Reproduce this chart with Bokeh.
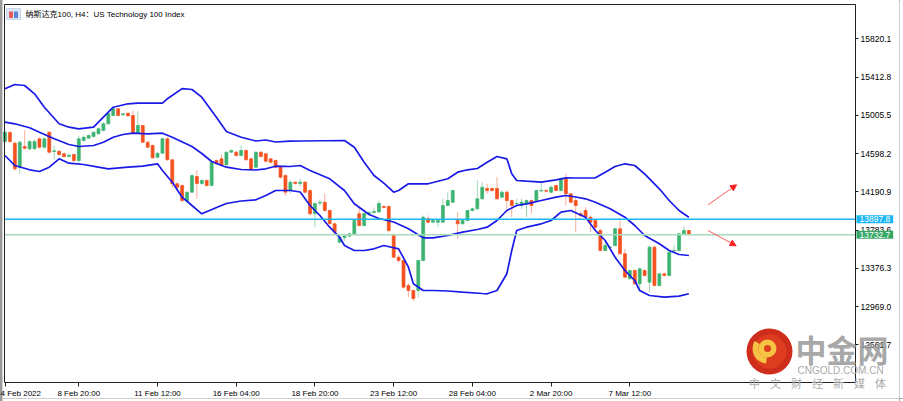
from bokeh.plotting import figure
from bokeh.models import (Range1d, FixedTicker, PrintfTickFormatter, Label, LinearAxis,
                          Arrow, NormalHead, ColumnDataSource, BoxAnnotation)
from bokeh.embed import file_html
from bokeh.resources import INLINE

# ---------------- data ----------------
title_text = "纳斯达克100, H4：US Technology 100 Index"

open_ = [14726.4, 14822.2, 14708.2, 14452.6, 14673.1, 14648.6, 14648.6, 14755.1, 14665.6, 14825.4,
         14619.9, 14623.0, 14595.4, 14566.6, 14587.9, 14524.0, 14737.0, 14761.5, 14779.6, 14808.4,
         14843.5, 14914.9, 15003.2, 15074.6, 15010.7, 15027.7, 15003.2, 14814.7, 14896.8, 14718.9,
         14683.8, 14559.1, 14601.7, 14755.1, 14531.5, 14275.9, 14257.8, 14090.5, 14186.4, 14353.6,
         14279.1, 14311.0, 14257.8, 14524.0, 14542.1, 14478.2, 14612.4, 14612.4, 14577.3, 14630.5,
         14542.1, 14452.6, 14612.4, 14595.4, 14542.1, 14524.0, 14452.6, 14364.3, 14204.5, 14292.9,
         14279.1, 14292.9, 14204.5, 13959.6, 14071.4, 14079.9, 13991.5, 13849.9, 13653.9, 13704.0,
         13719.9, 13743.4, 13956.4, 13831.8, 13956.4, 13970.2, 13975.5, 14034.1, 14034.1, 13725.3,
         13494.1, 13459.0, 13192.8, 13139.5, 13139.5, 13459.0, 13903.1, 13866.9, 13866.9, 13866.9,
         14044.8, 14079.9, 13885.0, 13849.9, 13885.0, 13991.5, 14009.6, 14116.1, 14225.8, 14225.8,
         14225.8, 14133.1, 14186.4, 14098.0, 14062.9, 14044.8, 14062.9, 14098.0, 14098.0, 14199.2,
         14204.5, 14186.4, 14257.8, 14204.5, 14332.3, 14169.4, 14098.0, 13956.4, 13991.5, 13920.1,
         13885.0, 13778.5, 13565.5, 13597.5, 13618.8, 13796.6, 13530.4, 13264.1, 13352.5, 13210.9,
         13352.5, 13227.9, 13600.6, 13192.8, 13317.4, 13299.3, 13560.2, 13565.5, 13743.4, 13778.5]

high = [14843.5, 14843.5, 14726.4, 14737.0, 14843.5, 14737.0, 14747.7, 14769.0, 14772.1, 14832.8,
        14683.8, 14630.5, 14609.2, 14598.6, 14598.6, 14790.3, 14790.3, 14800.9, 14832.8, 14875.4,
        14928.7, 15035.2, 15091.6, 15083.1, 15024.5, 15035.2, 15056.5, 15049.1, 14902.1, 14726.4,
        14694.4, 14609.2, 14769.0, 14772.1, 14537.8, 14289.7, 14268.4, 14193.9, 14374.9, 14417.5,
        14332.3, 14321.7, 14524.0, 14534.7, 14587.9, 14619.9, 14641.2, 14625.2, 14683.8, 14641.2,
        14550.6, 14619.9, 14619.9, 14601.7, 14548.5, 14534.7, 14460.1, 14374.9, 14311.0, 14300.4,
        14332.3, 14300.4, 14215.2, 14076.7, 14108.7, 14172.6, 14002.2, 13863.7, 13725.3, 13735.9,
        13757.2, 13895.7, 14026.6, 13970.2, 13980.9, 14023.5, 14098.0, 14044.8, 14044.8, 13746.6,
        13512.3, 13469.7, 13214.1, 13150.2, 13469.7, 13938.3, 13938.3, 13895.7, 13895.7, 14116.1,
        14186.4, 14215.2, 13973.4, 13895.7, 14002.2, 14023.5, 14311.0, 14292.9, 14275.9, 14236.5,
        14346.1, 14204.5, 14204.5, 14108.7, 14119.3, 14116.1, 14108.7, 14108.7, 14215.2, 14292.9,
        14215.2, 14257.8, 14268.4, 14343.0, 14382.4, 14172.6, 14133.1, 13980.9, 14026.6, 13938.3,
        13895.7, 13799.8, 13672.0, 13618.8, 13810.5, 13885.0, 13583.6, 13363.2, 13363.2, 13384.5,
        13363.2, 13618.8, 13618.8, 13331.2, 13331.2, 13554.9, 13618.8, 13757.2, 13821.1, 13783.8]

low = [14715.7, 14705.1, 14417.5, 14382.4, 14641.2, 14630.5, 14641.2, 14651.8, 14651.8, 14598.6,
       14534.7, 14577.3, 14556.0, 14556.0, 14505.9, 14495.2, 14726.4, 14753.0, 14769.0, 14800.9,
       14832.8, 14907.4, 14992.6, 14992.6, 15003.2, 14992.6, 14806.2, 14808.4, 14712.5, 14657.1,
       14545.3, 14545.3, 14595.4, 14524.0, 14236.5, 14204.5, 14076.7, 14082.0, 14183.2, 14119.3,
       14268.4, 14247.1, 14247.1, 14481.4, 14460.1, 14470.8, 14603.9, 14566.6, 14566.6, 14524.0,
       14417.5, 14444.1, 14556.0, 14502.7, 14492.1, 14438.8, 14332.3, 14151.3, 14172.6, 14268.4,
       14247.1, 14172.6, 13938.3, 13813.6, 14044.8, 13980.9, 13842.4, 13735.9, 13640.1, 13672.0,
       13704.0, 13735.9, 13821.1, 13821.1, 13938.3, 13959.6, 13970.2, 14012.8, 13757.2, 13480.3,
       13437.7, 13160.8, 13068.1, 13027.7, 13068.1, 13448.4, 13853.1, 13863.7, 13813.6, 13858.4,
       14034.1, 14071.4, 13690.1, 13842.4, 13874.4, 13980.9, 14002.2, 14108.7, 14169.4, 14193.9,
       14108.7, 14124.6, 14009.6, 13920.1, 14034.1, 14009.6, 13920.1, 13956.4, 14087.4, 14188.5,
       14183.2, 14177.9, 14193.9, 14193.9, 14044.8, 14066.1, 13760.4, 13906.3, 13906.3, 13760.4,
       13799.8, 13554.9, 13554.9, 13586.8, 13608.1, 13522.9, 13272.6, 13256.7, 13203.4, 13139.5,
       13288.6, 13121.4, 13182.1, 13182.1, 13288.6, 13288.6, 13547.4, 13554.9, 13735.9, 13725.3]

close = [14825.4, 14726.4, 14435.6, 14718.9, 14655.0, 14726.4, 14726.4, 14665.6, 14755.1, 14612.4,
         14627.3, 14587.9, 14566.6, 14580.4, 14524.0, 14755.1, 14772.1, 14790.3, 14825.4, 14861.6,
         14914.9, 15021.4, 15074.6, 15003.2, 15021.4, 15000.1, 14814.7, 14896.8, 14718.9, 14665.6,
         14552.8, 14601.7, 14755.1, 14531.5, 14275.9, 14239.6, 14098.0, 14186.4, 14364.3, 14279.1,
         14311.0, 14257.8, 14505.9, 14488.9, 14470.8, 14612.4, 14630.5, 14577.3, 14630.5, 14531.5,
         14425.0, 14612.4, 14566.6, 14516.5, 14505.9, 14452.6, 14346.1, 14186.4, 14292.9, 14279.1,
         14292.9, 14186.4, 13956.4, 14066.1, 14079.9, 13991.5, 13853.1, 13760.4, 13707.1, 13719.9,
         13743.4, 13885.0, 13831.8, 13959.6, 13970.2, 13980.9, 14066.1, 14023.5, 13778.5, 13494.1,
         13459.0, 13174.6, 13139.5, 13054.3, 13459.0, 13920.1, 13866.9, 13885.0, 13885.0, 14044.8,
         14098.0, 14204.5, 13849.9, 13885.0, 13991.5, 14009.6, 14116.1, 14239.6, 14204.5, 14204.5,
         14116.1, 14186.4, 14098.0, 14044.8, 14066.1, 14079.9, 14098.0, 14044.8, 14204.5, 14204.5,
         14197.0, 14239.6, 14204.5, 14329.1, 14169.4, 14079.9, 14044.8, 13938.3, 13920.1, 13866.9,
         13813.6, 13565.5, 13618.8, 13600.6, 13796.6, 13530.4, 13281.1, 13352.5, 13210.9, 13370.6,
         13299.3, 13600.6, 13192.8, 13317.4, 13299.3, 13547.4, 13565.5, 13743.4, 13778.5, 13732.7]

# Bollinger bands (bar index, price)
upper_bar = [0, 2, 4, 6, 8, 11, 13, 15, 18, 20, 22, 25, 27, 32, 33, 36, 38, 40, 43, 45,
             48, 50, 51, 53, 55, 58, 60, 69, 71, 73, 75, 77, 79, 80, 82, 86, 90, 92, 94, 96,
             98, 100, 102, 103, 104, 106, 109, 112, 114, 116, 120, 122, 124, 126, 128, 130, 133, 135, 137, 139]
upper = [15287.6, 15333.4, 15322.8, 15234.4, 15091.6, 14914.9, 14878.6, 14861.6, 14878.6, 14985.1,
         15091.6, 15127.9, 15134.3, 15134.3, 15181.1, 15290.0, 15280.0, 15198.1, 14981.9, 14832.9,
         14772.1, 14744.5, 14731.7, 14742.3, 14721.0, 14729.5, 14731.7, 14737.0, 14665.6, 14505.9,
         14364.3, 14282.3, 14186.4, 14204.5, 14275.9, 14275.9, 14329.1, 14399.4, 14425.0, 14438.8,
         14505.9, 14566.6, 14542.1, 14382.4, 14311.0, 14303.5, 14292.8, 14318.4, 14339.7, 14337.6,
         14339.7, 14399.4, 14460.1, 14488.8, 14470.8, 14382.4, 14222.6, 14098.0, 13991.5, 13920.1]

middle_bar = [0, 2, 5, 7, 10, 13, 15, 18, 20, 22, 24, 26, 29, 32, 34, 38, 40, 42, 45, 48,
              51, 53, 55, 58, 60, 62, 66, 69, 71, 74, 76, 79, 82, 85, 87, 90, 93, 96, 98, 100,
              102, 104, 106, 109, 112, 114, 116, 118, 120, 123, 126, 128, 130, 133, 135, 137, 139]
middle = [14931.9, 14914.9, 14872.3, 14825.4, 14755.2, 14694.4, 14673.1, 14683.8, 14718.9, 14772.1,
          14800.9, 14814.7, 14808.4, 14814.7, 14772.1, 14673.1, 14598.6, 14513.4, 14452.6, 14428.2,
          14422.8, 14435.6, 14463.3, 14460.1, 14470.8, 14417.5, 14329.1, 14204.5, 14062.8, 13948.9,
          13906.3, 13869.0, 13796.6, 13700.8, 13700.8, 13725.3, 13760.4, 13789.2, 13813.7, 13885.0,
          13991.5, 14044.8, 14062.8, 14098.0, 14133.1, 14151.3, 14135.3, 14116.1, 14079.9, 14009.6,
          13920.1, 13831.8, 13725.3, 13636.9, 13565.5, 13522.9, 13512.3]

lower_bar = [0, 2, 5, 7, 9, 11, 13, 16, 19, 21, 25, 28, 31, 32, 34, 36, 38, 40, 43, 45,
             48, 51, 53, 55, 58, 60, 62, 64, 66, 68, 69, 71, 73, 75, 77, 80, 82, 83, 85, 87,
             90, 93, 97, 98, 100, 102, 103, 104, 106, 109, 111, 113, 115, 118, 120, 122, 124, 126, 128, 129,
             131, 134, 137, 139]
lower = [14577.3, 14470.8, 14425.0, 14406.9, 14452.6, 14542.1, 14495.2, 14481.4, 14452.6, 14435.6,
         14452.6, 14463.3, 14488.8, 14417.5, 14292.8, 14133.1, 14044.8, 13956.4, 14023.5, 14066.1,
         14092.7, 14105.5, 14151.3, 14204.5, 14204.5, 14188.5, 14044.8, 13938.3, 13813.7, 13707.2,
         13618.8, 13565.5, 13565.5, 13583.6, 13618.8, 13583.6, 13387.7, 13210.9, 13139.5, 13139.5,
         13134.2, 13121.4, 13107.6, 13104.4, 13139.5, 13317.4, 13565.5, 13778.5, 13813.7, 13849.7,
         13885.0, 13973.4, 13991.5, 13920.1, 13778.5, 13672.0, 13494.2, 13352.5, 13246.0, 13139.5,
         13086.3, 13068.2, 13078.8, 13104.4]

price_ticks = [12561.7, 12969.0, 13376.3, 13783.6, 14190.9, 14598.2, 15005.5, 15412.8, 15820.1]
time_tick_bars = [0, 15, 31, 47, 63, 79, 95, 111, 127]
time_tick_labels = ["4 Feb 2022", "8 Feb 20:00", "11 Feb 12:00", "16 Feb 04:00", "18 Feb 20:00",
                    "23 Feb 12:00", "28 Feb 04:00", "2 Mar 20:00", "7 Mar 12:00"]

hline_price = 13897.8
bid_price = 13732.7

# red hand-drawn arrows (bar, price)
arrow_x0 = [142.9, 142.9]
arrow_y0 = [14052.2, 13778.5]
arrow_x1 = [148.7, 148.6]
arrow_y1 = [14265.2, 13615.6]

# ---------------- geometry ----------------
W, H = 903, 401
BAR_PX, BAR0_PX = 4.92, 4.5          # px per bar, px of bar 0
PT_PX, TOP_PRICE = 10.65, 16228.0    # price per px, price at canvas top
X0 = -BAR0_PX / BAR_PX
X1 = X0 + W / BAR_PX
Y1 = TOP_PRICE
Y0 = TOP_PRICE - H * PT_PX


def dx(px):
    return X0 + px / BAR_PX


def dy(py):
    return Y1 - py * PT_PX


AX_R, AX_B, AX_L, AX_T = dx(855), dy(382), dx(3.5), dy(4)

UP, DOWN = "#3cb371", "#f4511e"
UP_W, DOWN_W = "#9fd8b3", "#f7ad95"
FRAME = "#202020"

p = figure(width=W, height=H, output_backend="svg", toolbar_location=None,
           x_range=Range1d(X0, X1), y_range=Range1d(Y0, Y1),
           x_axis_location="below", y_axis_location="right",
           min_border=0, min_border_left=0, min_border_right=0, min_border_top=0, min_border_bottom=0,
           background_fill_alpha=0, border_fill_alpha=0)
p.grid.visible = False
p.outline_line_color = None

ya = p.yaxis[0]
ya.fixed_location = AX_R
ya.bounds = (AX_B, AX_T)
ya.ticker = FixedTicker(ticks=price_ticks)
ya.formatter = PrintfTickFormatter(format="%.1f")
ya.major_tick_out = 3
ya.major_tick_in = 0
ya.minor_tick_line_color = None
ya.axis_line_color = FRAME
ya.major_tick_line_color = FRAME
ya.major_label_standoff = 2
ya.major_label_text_font = "Liberation Sans"
ya.major_label_text_font_size = "8.5px"
ya.major_label_text_color = "#000000"

xa = p.xaxis[0]
xa.fixed_location = AX_B
xa.bounds = (AX_L, AX_R)
xa.ticker = FixedTicker(ticks=time_tick_bars)
xa.major_label_overrides = {b: t for b, t in zip(time_tick_bars, time_tick_labels)}
xa.major_tick_out = 4
xa.major_tick_in = 0
xa.minor_tick_line_color = None
xa.axis_line_color = FRAME
xa.major_tick_line_color = FRAME
xa.major_label_standoff = 2
xa.major_label_text_align = "left"
xa.major_label_text_font = "Liberation Sans"
xa.major_label_text_font_size = "8px"
xa.major_label_text_color = "#000000"

# top and left frame edges (tick-less axes)
top_ax = LinearAxis(fixed_location=AX_T, bounds=(AX_L, AX_R), ticker=FixedTicker(ticks=[]),
                    axis_line_color=FRAME, major_label_text_font_size="0px")
left_ax = LinearAxis(fixed_location=AX_L, bounds=(AX_B, AX_T), ticker=FixedTicker(ticks=[]),
                     axis_line_color=FRAME, major_label_text_font_size="0px")
p.add_layout(top_ax, "above")
p.add_layout(left_ax, "left")

# white chart area
p.add_layout(BoxAnnotation(left=AX_L, right=AX_R, top=AX_T, bottom=AX_B,
                           fill_color="white", fill_alpha=1, line_color=None, level="underlay"))
p.add_layout(BoxAnnotation(left=AX_R, right=dx(899), top=dy(0), bottom=dy(398),
                           fill_color="white", fill_alpha=1, line_color=None, level="underlay"))
p.add_layout(BoxAnnotation(left=dx(3), right=AX_R, top=AX_B, bottom=dy(398),
                           fill_color="white", fill_alpha=1, line_color=None, level="underlay"))

# candles
idx = list(range(len(close)))
is_up = [c >= o for o, c in zip(open_, close)]
src = ColumnDataSource(dict(
    x=idx, o=open_, h=high, l=low, c=close,
    top=[max(o, c) for o, c in zip(open_, close)],
    bottom=[min(o, c) for o, c in zip(open_, close)],
    body=[UP if u else DOWN for u in is_up],
    wick=[UP_W if u else DOWN_W for u in is_up],
))
p.segment(x0="x", y0="h", x1="x", y1="l", line_color="wick", line_width=1, source=src)
p.vbar(x="x", width=0.6, top="top", bottom="bottom", fill_color="body",
       line_color="body", line_width=0.7, source=src)

# bands
band_color = "#1a1ae8"
p.line(upper_bar, upper, line_color=band_color, line_width=1.7)
p.line(middle_bar, middle, line_color=band_color, line_width=1.7)
p.line(lower_bar, lower, line_color=band_color, line_width=1.7)

# horizontal lines (stop at the price scale)
p.segment(x0=[AX_L, AX_L], x1=[AX_R, AX_R], y0=[hline_price, bid_price], y1=[hline_price, bid_price],
          line_color=["#19b5f5", "#a6dcbc"], line_width=[1.6, 1.4])

# arrows
for xs, ys, xe, ye in zip(arrow_x0, arrow_y0, arrow_x1, arrow_y1):
    p.add_layout(Arrow(end=NormalHead(size=6, fill_color="#ff2020", line_color="#ff2020"),
                       x_start=xs, y_start=ys, x_end=xe, y_end=ye,
                       line_color="#ff3030", line_width=0.8))

# price boxes on the right scale (drawn above the axis labels)
for price, bg in [(hline_price, "#19b5f5"), (bid_price, "#36a866")]:
    p.add_layout(Label(x=dx(856), y=price, text=f"{price:.1f}", text_color="white",
                       text_font="Liberation Sans", text_font_size="8.5px",
                       text_baseline="middle", text_align="left", level="overlay",
                       background_fill_color=bg, padding=dict(x=3, y=1)))

# title + icon
p.add_layout(BoxAnnotation(left=dx(6), right=dx(20), top=dy(8), bottom=dy(19),
                           fill_color="#dce6f4", fill_alpha=1, line_color="#6f8fc4", line_width=1))
p.add_layout(BoxAnnotation(left=dx(8.5), right=dx(12.5), top=dy(11), bottom=dy(17.5),
                           fill_color="#e25a5a", fill_alpha=1, line_color=None))
p.add_layout(BoxAnnotation(left=dx(13.5), right=dx(17.5), top=dy(11), bottom=dy(17.5),
                           fill_color="#5b84d6", fill_alpha=1, line_color=None))
p.add_layout(Label(x=dx(25), y=dy(13.5), text=title_text,
                   text_font="Liberation Sans, Noto Sans CJK SC", text_font_size="8px",
                   text_baseline="middle", text_color="#000000"))

# watermark
lx, ly = dx(769), dy(351)
p.scatter(x=[lx], y=[ly], marker="circle", size=46, fill_color="#cf2d1c", line_color=None)
p.scatter(x=[lx], y=[ly], marker="circle", size=34, fill_color="#e2451f", fill_alpha=0.7, line_color=None)
p.annulus(x=[dx(767)], y=[dy(348)], inner_radius=3.5, outer_radius=9,
          inner_radius_units="screen", outer_radius_units="screen",
          fill_color="#f6c445", line_color=None)
p.annular_wedge(x=[dx(767)], y=[dy(348)], inner_radius=9, outer_radius=15,
                inner_radius_units="screen", outer_radius_units="screen",
                start_angle=150, end_angle=265, start_angle_units="deg", end_angle_units="deg",
                fill_color="#f6c445", line_color=None)
wm = "#9c9c9c"
p.add_layout(Label(x=dx(795), y=dy(348), text="中金网", text_font="Noto Sans CJK SC",
                   text_font_size="31px", text_font_style="bold", text_color=wm, text_alpha=0.9,
                   text_baseline="middle", level="overlay"))
p.add_layout(Label(x=dx(797), y=dy(370), text="CNGOLD.COM.CN", text_font="Liberation Sans",
                   text_font_size="10px", text_color="#aaaaaa", text_baseline="middle",
                   level="overlay"))
for i, ch in enumerate("中文财经新媒体"):
    p.add_layout(Label(x=dx(754 + 21 * i), y=dy(382), text=ch, text_font="Noto Sans CJK SC",
                       text_font_size="11px", text_color="#aaaaaa", text_baseline="middle",
                       text_align="center", level="overlay"))

css = ("<style>html,body{margin:0;padding:0;overflow:hidden;}"
       "body{background:"
       "linear-gradient(#9a9a9a,#9a9a9a) 0 0/2px 401px no-repeat,"
       "linear-gradient(#d4d4d4,#d4d4d4) 2px 0/1px 401px no-repeat,"
       "linear-gradient(#a0a0a0,#a0a0a0) 899px 0/1px 401px no-repeat,"
       "linear-gradient(#a0a0a0,#a0a0a0) 0 398px/903px 1px no-repeat,#ffffff;}</style>")
html = file_html(p, INLINE, title="NAS100 H4")
html = html.replace("<head>", "<head>" + css, 1)
open("out.html", "w").write(html)
